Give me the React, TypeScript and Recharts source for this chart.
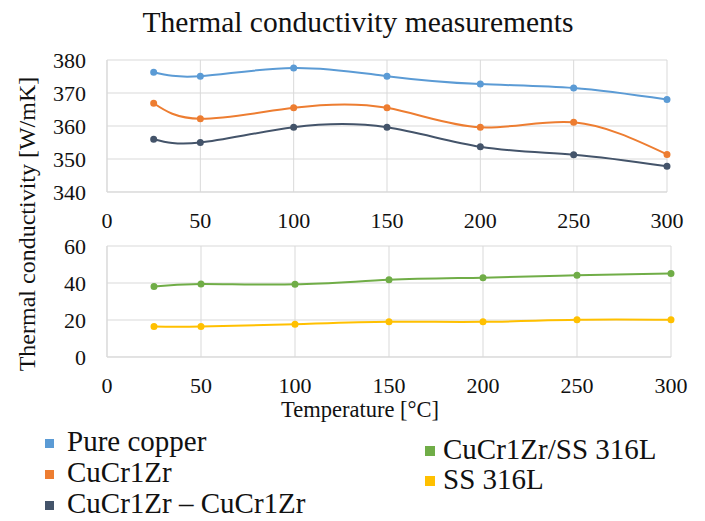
import { LineChart, Line, XAxis, YAxis, CartesianGrid } from 'recharts'

const temperatures = [25, 50, 100, 150, 200, 250, 300]
const pureCopper = [376.3, 375.1, 377.6, 375.1, 372.7, 371.5, 368.0]
const cuCr1Zr = [366.9, 362.2, 365.5, 365.5, 359.6, 361.1, 351.4]
const cuCr1ZrJoint = [356.0, 355.0, 359.6, 359.6, 353.7, 351.3, 347.8]
const cuCr1ZrSS = [38.1, 39.5, 39.3, 41.7, 42.9, 44.2, 45.1]
const ss316L = [16.5, 16.5, 17.7, 19.0, 19.0, 20.1, 20.1]

const xTicks = [0, 50, 100, 150, 200, 250, 300]
const topTicks = [340, 350, 360, 370, 380]
const bottomTicks = [0, 20, 40, 60]

const topSeries = [
  { key: 'pure', name: 'Pure copper', color: '#5B9BD5', values: pureCopper },
  { key: 'cucr', name: 'CuCr1Zr', color: '#ED7D31', values: cuCr1Zr },
  { key: 'joint', name: 'CuCr1Zr – CuCr1Zr', color: '#44546A', values: cuCr1ZrJoint },
]
const bottomSeries = [
  { key: 'mixed', name: 'CuCr1Zr/SS 316L', color: '#70AD47', values: cuCr1ZrSS },
  { key: 'ss', name: 'SS 316L', color: '#FFC000', values: ss316L },
]

const font = '"Liberation Serif", "Times New Roman", serif'
const grid = '#d9d9d9'

const toRows = (series: typeof topSeries) =>
  temperatures.map((t, i) => {
    const row: Record<string, number> = { t }
    series.forEach((s) => (row[s.key] = s.values[i]))
    return row
  })

// ticks drawn by hand so the serif font really sticks
const XTick = ({ x, y, payload }: any) => (
  <text x={x} y={y + 16} textAnchor="middle" fontFamily={font} fontSize={22} fill="#111">
    {payload.value}
  </text>
)
const YTick = ({ x, y, payload }: any) => (
  <text x={x} y={y + 7.5} textAnchor="end" fontFamily={font} fontSize={22} fill="#111">
    {payload.value}
  </text>
)

function Panel({ series, domain, ticks, height, margin }: any) {
  return (
    <LineChart width={705} height={height} data={toRows(series)} margin={margin}>
      <CartesianGrid stroke={grid} />
      <XAxis
        dataKey="t"
        type="number"
        domain={[0, 300]}
        ticks={xTicks}
        tick={<XTick />}
        tickSize={0}
        tickMargin={20}
        height={40}
        axisLine={{ stroke: grid }}
      />
      <YAxis
        domain={domain}
        ticks={ticks}
        tick={<YTick />}
        tickSize={0}
        tickMargin={21}
        width={107}
        axisLine={{ stroke: grid }}
        allowDataOverflow
      />
      {series.map((s: any) => (
        <Line
          key={s.key}
          dataKey={s.key}
          type="natural"
          stroke={s.color}
          strokeWidth={2}
          dot={{ r: 2.5, fill: s.color, stroke: s.color }}
          isAnimationActive={false}
        />
      ))}
    </LineChart>
  )
}

const legendLeft = [441, 472, 503]
const legendRight = [449, 479]

export default function App() {
  return (
    <div style={{ position: 'absolute', left: 0, top: 0, width: 705, height: 521, background: '#fff', fontFamily: font }}>
      <div style={{ position: 'absolute', left: 0, width: 716, top: 7.5, fontSize: 29.5, lineHeight: '29px', textAlign: 'center', color: '#111' }}>
        Thermal conductivity measurements
      </div>
      <div style={{ position: 'absolute', left: 0, top: 0 }}>
        <Panel series={topSeries} domain={[340, 380]} ticks={topTicks} height={240} margin={{ top: 60, right: 38, bottom: 8, left: 0 }} />
      </div>
      <div style={{ position: 'absolute', left: 0, top: 230 }}>
        <Panel series={bottomSeries} domain={[0, 60]} ticks={bottomTicks} height={170} margin={{ top: 16, right: 34, bottom: 3, left: 0 }} />
      </div>
      <div
        style={{
          position: 'absolute',
          left: 27,
          top: 224,
          transform: 'translate(-50%, -50%) rotate(-90deg)',
          whiteSpace: 'nowrap',
          fontSize: 24,
          lineHeight: '24px',
          color: '#111',
        }}
      >
        Thermal conductivity [W/mK]
      </div>
      <div style={{ position: 'absolute', left: 360, top: 410, transform: 'translate(-50%, -50%)', whiteSpace: 'nowrap', fontSize: 22.5, lineHeight: '20px', color: '#111' }}>
        Temperature [°C]
      </div>
      {topSeries.map((s, i) => (
        <div key={s.key}>
          <div style={{ position: 'absolute', left: 45, top: legendLeft[i] - 2, width: 9, height: 9, background: s.color }} />
          <div style={{ position: 'absolute', left: 67, top: legendLeft[i] - 12, fontSize: 29, lineHeight: '24px', whiteSpace: 'nowrap', color: '#111' }}>
            {s.name}
          </div>
        </div>
      ))}
      {bottomSeries.map((s, i) => (
        <div key={s.key}>
          <div style={{ position: 'absolute', left: 425, top: legendRight[i] - 3, width: 10, height: 10, background: s.color }} />
          <div style={{ position: 'absolute', left: 443, top: legendRight[i] - 12, fontSize: 29, lineHeight: '24px', whiteSpace: 'nowrap', color: '#111' }}>
            {s.name}
          </div>
        </div>
      ))}
    </div>
  )
}
